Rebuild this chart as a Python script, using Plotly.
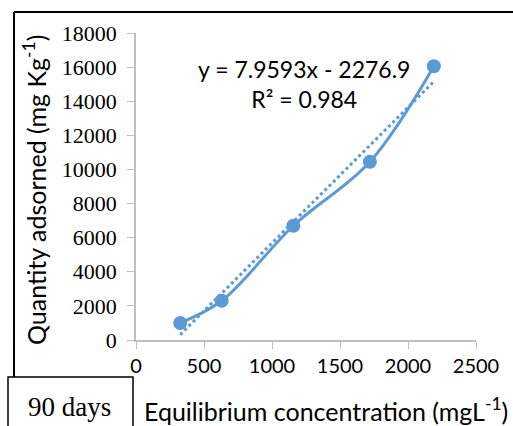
import plotly.graph_objects as go
import numpy as np

# Data
conc = [325, 630, 1157, 1720, 2190]
qty = [1000, 2300, 6700, 10450, 16050]
slope = 7.9593
intercept = -2276.9
eq_text = "y = 7.9593x - 2276.9<br>R² = 0.984"
x_ticks = [0, 500, 1000, 1500, 2000, 2500]
y_ticks = [0, 2000, 4000, 6000, 8000, 10000, 12000, 14000, 16000, 18000]

W, H = 513, 426
L, R, T, B = 136, 476, 33, 340

def px(x):
    return (x - L) / (R - L)

def py(y):
    return (B - y) / (B - T)

trend_x = [min(conc), max(conc)]
trend_y = [slope * v + intercept for v in trend_x]

fig = go.Figure()
fig.add_trace(go.Scatter(x=trend_x, y=trend_y, mode="lines",
                         line=dict(color="#5B9BD5", width=3, dash="dot"),
                         showlegend=False, hoverinfo="skip"))
fig.add_trace(go.Scatter(x=conc, y=qty, mode="lines+markers",
                         line=dict(color="#5B9BD5", width=3, shape="spline", smoothing=1.0),
                         marker=dict(color="#5B9BD5", size=14),
                         showlegend=False))

fig.update_layout(
    width=W, height=H,
    margin=dict(l=L, r=W - R, t=T, b=H - B),
    paper_bgcolor="white", plot_bgcolor="white",
    xaxis=dict(range=[0, 2500], tickvals=x_ticks, ticktext=[str(v) for v in x_ticks],
               showgrid=False, zeroline=False,
               showline=True, linecolor="#BFBFBF", linewidth=1.5,
               ticks="outside", ticklen=7, tickcolor="#BFBFBF",
               tickfont=dict(family="Lato, Open Sans, sans-serif", size=20, color="black")),
    yaxis=dict(range=[0, 18000], tickvals=y_ticks, ticktext=[str(v) for v in y_ticks],
               showgrid=False, zeroline=False,
               showline=True, linecolor="#BFBFBF", linewidth=1.5,
               ticks="outside", ticklen=7, tickcolor="#BFBFBF", ticklabelstandoff=6,
               tickfont=dict(family="Liberation Serif, Times New Roman, serif", size=22, color="black")),
    font=dict(family="Lato, Open Sans, sans-serif", color="black"),
)

fig.add_annotation(x=px(34), y=py(190), xref="paper", yref="paper",
                   xanchor="center", yanchor="middle",
                   text="Quantity adsorned (mg Kg<sup>-1</sup>)", textangle=-90,
                   showarrow=False, font=dict(size=25, family="Lato, sans-serif"))
fig.add_annotation(x=px(326), y=py(409), xref="paper", yref="paper",
                   xanchor="center", yanchor="middle",
                   text="Equilibrium concentration (mgL<sup>-1</sup>)",
                   showarrow=False, font=dict(size=25, family="Lato, sans-serif"))
fig.add_annotation(x=px(304), y=py(84), xref="paper", yref="paper",
                   xanchor="center", yanchor="middle",
                   text=eq_text, showarrow=False, align="center",
                   font=dict(size=23, family="Lato, sans-serif"))
fig.add_annotation(x=px(69), y=py(407), xref="paper", yref="paper",
                   xanchor="center", yanchor="middle",
                   text="90 days", showarrow=False,
                   font=dict(size=27, family="Liberation Serif, serif"))

# outer frame lines
fig.add_shape(type="line", xref="paper", yref="paper",
              x0=px(14), y0=py(12), x1=px(514), y1=py(12), line=dict(color="black", width=2))
fig.add_shape(type="line", xref="paper", yref="paper",
              x0=px(14), y0=py(12), x1=px(14), y1=py(377), line=dict(color="black", width=2))
fig.add_shape(type="rect", xref="paper", yref="paper",
              x0=px(8), y0=py(377), x1=px(133), y1=py(430), line=dict(color="black", width=1.5))

fig.write_html("out.html")
